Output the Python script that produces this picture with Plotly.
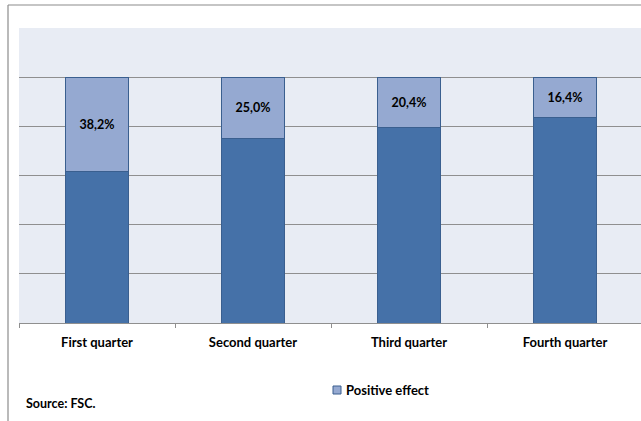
import plotly.graph_objects as go

# Quarterly shares (%) of the positive effect; remainder fills each bar to 100%
quarters = ["First quarter", "Second quarter", "Third quarter", "Fourth quarter"]
positive_effect = [38.2, 25.0, 20.4, 16.4]
remainder = [round(100 - v, 1) for v in positive_effect]
legend_label = "Positive effect"
source_note = "Source: FSC."

W, H = 641, 421
ML, MR, MT, MB = 19, 0, 28, 98          # plot area: x 19..641, y 28..323
PW, PH = W - ML - MR, H - MT - MB

def px_x(x):
    return (x - ML) / PW

def px_y(y):
    return (H - MB - y) / PH

FONT = "Lato"
DARK = "#4571A8"
LIGHT = "#95A9D1"
EDGE = "#3A5F8F"
GRID = "#8F8F8F"

fig = go.Figure()
fig.add_bar(
    x=quarters, y=remainder, name="Remainder", showlegend=False,
    marker=dict(color=DARK, line=dict(color=EDGE, width=1)),
    width=0.4, hoverinfo="skip",
)
fig.add_bar(
    x=quarters, y=positive_effect, name=legend_label, showlegend=False,
    marker=dict(color=LIGHT, line=dict(color=EDGE, width=1)),
    width=0.4,
    texttemplate="%{y:.1f}%", textposition="inside", insidetextanchor="middle",
    textfont=dict(family=FONT, size=12.5, color="#000000", weight="bold"),
    constraintext="none",
)

# outer chart frame (top and left edges visible)
fig.add_shape(type="line", xref="paper", yref="paper",
              x0=px_x(8), x1=px_x(W + 5), y0=px_y(5), y1=px_y(5),
              line=dict(color="#8C8C8C", width=1.2))
fig.add_shape(type="line", xref="paper", yref="paper",
              x0=px_x(8), x1=px_x(8), y0=px_y(5), y1=px_y(H + 5),
              line=dict(color="#8C8C8C", width=1.2))

# legend key: small square swatch plus bold label
fig.add_shape(type="rect", xref="paper", yref="paper",
              x0=px_x(333), x1=px_x(341), y0=px_y(386), y1=px_y(394),
              fillcolor=LIGHT, line=dict(color=EDGE, width=1))
fig.add_annotation(
    text=legend_label, xref="paper", yref="paper",
    x=px_x(344), y=px_y(390), xanchor="left", yanchor="middle",
    showarrow=False, font=dict(family=FONT, size=13, color="#000000", weight="bold"),
)

fig.add_annotation(
    text=source_note, xref="paper", yref="paper",
    x=px_x(24), y=px_y(404), xanchor="left", yanchor="middle",
    showarrow=False, font=dict(family=FONT, size=12.5, color="#000000", weight="bold"),
)

fig.update_layout(
    width=W, height=H, margin=dict(l=ML, r=MR, t=MT, b=MB),
    paper_bgcolor="#FFFFFF", plot_bgcolor="#E8ECF4",
    barmode="stack", separators=",.",
    showlegend=False,
    font=dict(family=FONT, size=12, color="#000000"),
)
fig.update_xaxes(
    type="category", range=[-0.5, 3.487],
    showline=True, linecolor=GRID, linewidth=1,
    ticks="outside", tickson="boundaries", ticklen=4, tickcolor=GRID,
    ticklabelstandoff=7,
    tickfont=dict(family=FONT, size=13, color="#000000", weight="bold"),
    showgrid=False, fixedrange=True,
)
fig.update_yaxes(
    range=[0, 120], dtick=20, showticklabels=False,
    showgrid=True, gridcolor=GRID, gridwidth=1,
    zeroline=False, showline=False, fixedrange=True,
)

fig.write_html("out.html")
